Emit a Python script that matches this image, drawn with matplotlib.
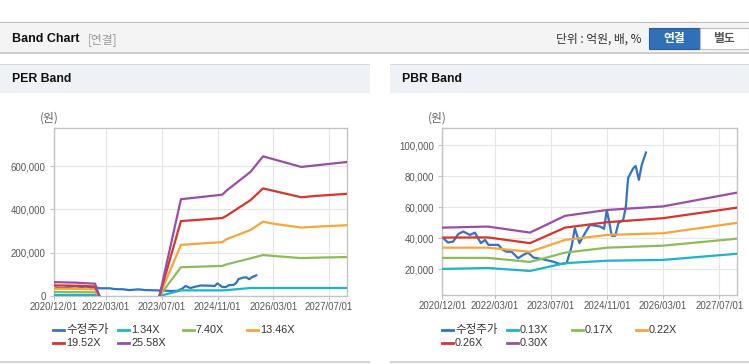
import numpy as np
import pandas as pd
import matplotlib
matplotlib.use("Agg")
import matplotlib.pyplot as plt
from matplotlib.patches import Rectangle
from matplotlib.lines import Line2D
from matplotlib.ticker import FuncFormatter

W, H = 749, 364

# adjusted share price (same series on both charts)
price_dates = ["2020-12-10", "2021-01-20", "2021-03-05", "2021-04-20", "2021-06-01",
               "2021-07-28", "2021-09-10", "2021-11-01", "2021-12-07", "2022-01-05",
               "2022-04-01", "2022-05-12", "2022-06-12", "2022-07-25", "2022-09-20",
               "2022-11-03", "2022-12-15", "2023-02-01", "2023-04-25", "2023-07-20",
               "2023-09-18", "2023-11-15", "2023-12-28", "2024-01-25", "2024-03-05",
               "2024-04-22", "2024-06-05", "2024-09-01", "2024-10-05", "2024-10-28",
               "2024-11-18", "2024-12-10", "2025-01-10", "2025-02-06", "2025-03-20",
               "2025-04-12", "2025-05-01", "2025-06-15", "2025-07-06", "2025-08-03",
               "2025-08-28", "2025-10-03"]
price = [40000, 37200, 37800, 42800, 44300, 42100, 43600, 36800, 38900, 35700,
         35700, 32400, 31300, 31300, 27100, 29200, 30700, 27500, 26400, 24900,
         23400, 23900, 34600, 46400, 36800, 43200, 48600, 47500, 46000, 58200,
         50700, 41500, 41500, 49700, 51800, 60400, 78700, 85100, 86600, 77600,
         87300, 95200]

# PER band
per_dates = ["2020-12-01", "2021-03-01", "2021-06-01", "2021-09-01", "2021-11-25",
             "2022-01-01", "2022-06-01", "2023-06-10", "2023-12-15", "2024-12-10",
             "2025-01-15", "2025-08-15", "2025-12-01", "2026-03-01", "2026-11-01",
             "2027-03-01", "2027-12-05"]
nan = np.nan
per_134 = [5000, 5000, 5000, 4500, 4500, 0, nan, 0, 26000, 26000, 27000, 37000,
           37000, 37000, 37000, 37000, 37000]
per_740 = [19000, 18500, 18000, 17500, 17000, 0, nan, 0, 133000, 139000, 146000,
           174000, 189000, 185000, 175000, 177000, 180000]
per_1346 = [34000, 33500, 33000, 31500, 30500, 0, nan, 0, 236000, 249000, 262000,
            305000, 343000, 334000, 316000, 320000, 327000]
per_1952 = [49000, 48500, 47500, 46000, 44000, 0, nan, 0, 346000, 360000, 370000,
            443000, 497000, 486000, 456000, 462000, 472000]
per_2558 = [64000, 63000, 62000, 59000, 57000, 0, nan, 0, 447000, 468000, 486000,
            574000, 645000, 632000, 596000, 603000, 619000]

# PBR band
pbr_dates = ["2020-12-01", "2022-01-01", "2023-01-01", "2023-11-01", "2024-11-01",
             "2026-03-01", "2027-12-05"]
pbr_013 = [20200, 20800, 18900, 23900, 25500, 26000, 30000]
pbr_017 = [27300, 27300, 24700, 30700, 33900, 35200, 39700]
pbr_022 = [33900, 33900, 31200, 38900, 42100, 43200, 49900]
pbr_026 = [40400, 40500, 36800, 46800, 50300, 52900, 59700]
pbr_030 = [46800, 47500, 43600, 54400, 58200, 60500, 69400]

per_labels = ["수정주가", "1.34X", "7.40X", "13.46X", "19.52X", "25.58X"]
pbr_labels = ["수정주가", "0.13X", "0.17X", "0.22X", "0.26X", "0.30X"]
x_ticks = ["2020-12-01", "2022-03-01", "2023-07-01", "2024-11-01", "2026-03-01", "2027-07-01"]
per_yticks = [0, 200000, 400000, 600000]
pbr_yticks = [20000, 40000, 60000, 80000, 100000]

colors = ["#3373c4", "#1db3c9", "#8cbb58", "#f5a53a", "#d8342c", "#994ea4"]

LAT = ["Liberation Sans", "Noto Sans CJK KR"]
KR = ["Noto Sans CJK KR", "DejaVu Sans"]


def fx(x):
    return x / W


def fy(y):
    return 1 - y / H


def rect(fig, x0, y0, x1, y1, color, ec="none", lw=0, z=0):
    fig.patches.append(Rectangle((fx(x0), fy(y1)), fx(x1 - x0), (y1 - y0) / H,
                                 transform=fig.transFigure, facecolor=color,
                                 edgecolor=ec, linewidth=lw, zorder=z))


fig = plt.figure(figsize=(W / 100, H / 100), dpi=100)
fig.patch.set_facecolor("white")

# page header
rect(fig, 0, 21.5, W, 23, "#b9b9b9")
rect(fig, 0, 23, W, 52, "#f4f4f4")
rect(fig, 0, 52, W, 53.5, "#cdcdcd")
fig.text(fx(11.5), fy(39), "Band Chart", family=LAT, weight="bold", size=9,
         color="#111111", va="center")
fig.text(fx(88), fy(39.5), "[연결]", family=KR, size=8.5, color="#9a9a9a", va="center")
fig.text(fx(642), fy(39.5), "단위 : 억원, 배, %", family=KR, size=8.5, color="#333333",
         va="center", ha="right")
rect(fig, 648.5, 28.5, 700, 48.5, "#3170b9", ec="#2a5e9c", lw=0.8, z=1)
rect(fig, 700, 28.5, 748.5, 48.5, "white", ec="#bdbdbd", lw=0.8, z=1)
fig.text(fx(674), fy(38.5), "연결", family=KR, weight="bold", size=8.5, color="white",
         va="center", ha="center")
fig.text(fx(724), fy(38.5), "별도", family=KR, weight="bold", size=8.5, color="#555555",
         va="center", ha="center")

# panel headers and bottom borders
for x0, x1, title in [(0, 370, "PER Band"), (390, W, "PBR Band")]:
    rect(fig, x0, 63.5, x1, 64.8, "#d6d6d6")
    rect(fig, x0, 64.8, x1, 92.5, "#eef1f6")
    rect(fig, x0, 361, x1, 363, "#d3d3d3")
    fig.text(fx(x0 + 11.5), fy(79), title, family=LAT, weight="bold", size=8.8,
             color="#111111", va="center")


def setup_axes(ax, yticks, ylim):
    ax.set_xlim(pd.Timestamp("2020-12-01"), pd.Timestamp("2027-12-05"))
    ax.set_ylim(*ylim)
    ax.set_xticks(pd.to_datetime(x_ticks))
    ax.set_xticklabels([t.replace("-", "/") for t in x_ticks])
    ax.set_yticks(yticks)
    ax.yaxis.set_major_formatter(FuncFormatter(lambda v, p: f"{v:,.0f}"))
    ax.grid(True, color="#e6e6e6", linewidth=0.8, zorder=0)
    ax.set_axisbelow(True)
    for s in ax.spines.values():
        s.set_color("#c3c3c3")
        s.set_linewidth(1)
    ax.tick_params(axis="both", colors="#c3c3c3", length=3, width=0.8,
                   labelcolor="#555555", labelsize=6.9)
    ax.tick_params(axis="x", pad=1.5)
    ax.tick_params(axis="y", pad=3)
    for lab in ax.get_xticklabels() + ax.get_yticklabels():
        lab.set_family(LAT)


def draw_legend(x0, labels):
    offs = [0, 65, 130, 194]
    rows = [330, 343]
    for i, (lab, c) in enumerate(zip(labels, colors)):
        x = x0 + offs[i % 4]
        y = rows[i // 4]
        fig.add_artist(Line2D([fx(x), fx(x + 10.5)], [fy(y), fy(y)], color=c, lw=2,
                              transform=fig.transFigure))
        korean = any(ord(ch) > 0x3000 for ch in lab)
        fig.text(fx(x + 13), fy(y), lab, family=KR if korean else LAT,
                 size=8.3 if korean else 7.8, color="#333333", va="center")


# PER chart
ax1 = fig.add_axes([fx(54), fy(296), (347 - 54) / W, (296 - 128) / H])
setup_axes(ax1, per_yticks, (0, 776000))
pd_dates = pd.to_datetime(price_dates)
ax1.plot(pd_dates, price, color=colors[0], lw=1.6, zorder=2)
per_x = pd.to_datetime(per_dates)
for i, ser in enumerate([per_134, per_740, per_1346, per_1952, per_2558]):
    ax1.plot(per_x, ser, color=colors[i + 1], lw=1.6, zorder=3 + i)
fig.text(fx(49), fy(118), "(원)", family=KR, size=8.5, color="#666666",
         va="center", ha="center")
draw_legend(53, per_labels)

# PBR chart
ax2 = fig.add_axes([fx(442.3), fy(295), (737.3 - 442.3) / W, (295 - 128) / H])
setup_axes(ax2, pbr_yticks, (3400, 111000))
ax2.plot(pd_dates, price, color=colors[0], lw=1.6, zorder=2)
pbr_x = pd.to_datetime(pbr_dates)
for i, ser in enumerate([pbr_013, pbr_017, pbr_022, pbr_026, pbr_030]):
    ax2.plot(pbr_x, ser, color=colors[i + 1], lw=1.6, zorder=3 + i)
fig.text(fx(437.5), fy(118), "(원)", family=KR, size=8.5, color="#666666",
         va="center", ha="center")
draw_legend(442, pbr_labels)

fig.savefig("out.png", dpi=100)
